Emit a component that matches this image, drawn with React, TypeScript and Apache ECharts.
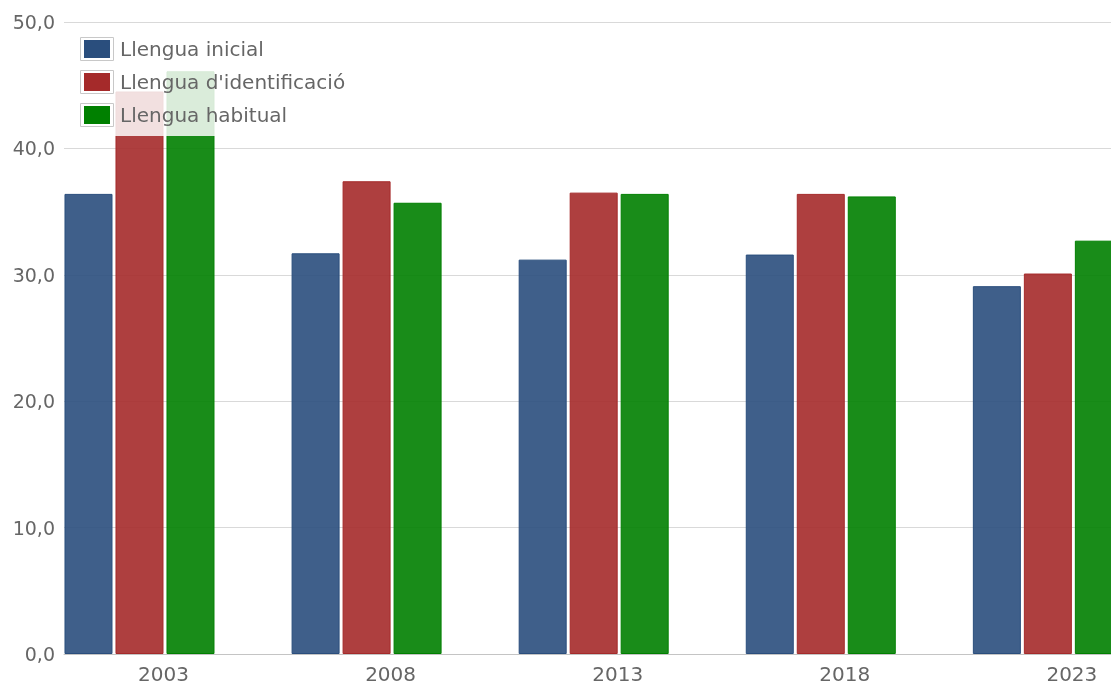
import React, { useEffect, useRef } from "react";
import * as echarts from "echarts";

const years = [2003, 2008, 2013, 2018, 2023];
const seriesNames = ["Llengua inicial", "Llengua d'identificació", "Llengua habitual"];
const llenguaInicial = [36.4, 31.7, 31.2, 31.6, 29.1];
const llenguaIdentificacio = [44.5, 37.4, 36.5, 36.4, 30.1];
const llenguaHabitual = [46.1, 35.7, 36.4, 36.2, 32.7];
const colors = ["#2A4E7D", "#A52A2A", "#008000"];
const fills = ["rgba(42,78,125,0.9)", "rgba(165,42,42,0.9)", "rgba(0,128,0,0.9)"];

const FONT = "DejaVu Sans";
const GRID_LEFT = 64;
const GRID_RIGHT = 0;
const GRID_TOP = 22;
const GRID_BOTTOM = 33;
const X_MIN = 2001.338;
const X_MAX = 2024.39;

const LEG_SWATCH_LEFT = 84;
const LEG_SWATCH_TOP = 40;
const LEG_W = 26;
const LEG_H = 18;
const LEG_ROW = 20;
const LEG_GAP = 13;

export default function App() {
  const ref = useRef<HTMLDivElement>(null);
  useEffect(() => {
    if (!ref.current) return;
    const chart = echarts.init(ref.current, undefined, { renderer: "svg" });
    const values = [llenguaInicial, llenguaIdentificacio, llenguaHabitual];
    const frames = seriesNames.map((_, i) => ({
      type: "rect",
      z: 100,
      shape: {
        x: LEG_SWATCH_LEFT - 3.5,
        y: LEG_SWATCH_TOP + (LEG_ROW - LEG_H) / 2 - 1 + i * (LEG_ROW + LEG_GAP) - 2.5,
        width: LEG_W + 7,
        height: LEG_H + 5,
      },
      style: { fill: "none", stroke: "#c8c8c8", lineWidth: 1 },
    }));
    chart.setOption({
      animation: false,
      textStyle: { fontFamily: FONT },
      grid: { left: GRID_LEFT, right: GRID_RIGHT, top: GRID_TOP, bottom: GRID_BOTTOM, containLabel: false },
      legend: {
        orient: "vertical",
        left: LEG_SWATCH_LEFT - 4,
        top: LEG_SWATCH_TOP - 1 - 8,
        padding: [8, 10, 11, 4],
        backgroundColor: "rgba(255,255,255,0.84)",
        itemWidth: LEG_W,
        itemHeight: LEG_H,
        itemGap: LEG_GAP,
        icon: "rect",
        data: seriesNames.map((n, i) => ({ name: n, itemStyle: { color: colors[i], borderWidth: 0 } })),
        textStyle: { fontFamily: FONT, fontSize: 20, color: "#666666", lineHeight: LEG_ROW, padding: [0, 0, 0, 5] },
      },
      graphic: frames,
      xAxis: {
        type: "value",
        min: X_MIN,
        max: X_MAX,
        splitLine: { show: false },
        axisTick: { show: false },
        axisLine: { show: true, lineStyle: { color: "#c4c4c4", width: 1 } },
        axisLabel: {
          customValues: years,
          formatter: (v: number) => String(Math.round(v)),
          fontFamily: FONT,
          fontSize: 20,
          color: "#666666",
          margin: 10,
          padding: [0, 0, 0, 48],
        },
      },
      yAxis: {
        type: "value",
        min: 0,
        max: 50,
        interval: 10,
        axisLine: { show: false },
        axisTick: { show: false },
        splitLine: { lineStyle: { color: "#d9d9d9", width: 1 } },
        axisLabel: {
          formatter: (v: number) => v.toFixed(1).replace(".", ","),
          fontFamily: FONT,
          fontSize: 19,
          color: "#666666",
          margin: 9,
          padding: [5, 0, 0, 0],
        },
      },
      series: seriesNames.map((name, i) => ({
        name,
        type: "bar",
        barWidth: 48,
        barGap: "6.25%",
        data: years.map((y, j) => [y, values[i][j]]),
        itemStyle: { color: fills[i], borderColor: colors[i], borderWidth: 1 },
      })),
    });
    return () => chart.dispose();
  }, []);
  return <div ref={ref} style={{ position: "fixed", left: 0, top: 0, width: 1111, height: 687 }} />;
}
